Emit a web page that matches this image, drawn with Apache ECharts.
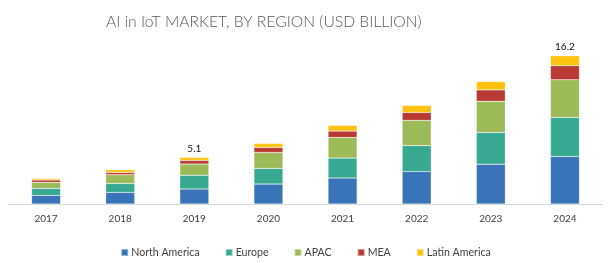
<!DOCTYPE html>
<html>
<head>
<meta charset="utf-8">
<script src="https://cdn.jsdelivr.net/npm/echarts@6/dist/echarts.min.js"></script>
<style>html,body{margin:0;padding:0;background:#fff}#c{width:611px;height:263px}</style>
</head>
<body>
<div id="c"></div>
<script>
var titleText = 'AI in IoT MARKET, BY REGION (USD BILLION)';
var years = ['2017', '2018', '2019', '2020', '2021', '2022', '2023', '2024'];
var northAmerica = [0.94, 1.27, 1.64, 2.18, 2.84, 3.54, 4.35, 5.20];
var europe       = [0.76, 0.98, 1.50, 1.70, 2.18, 2.84, 3.46, 4.26];
var apac         = [0.66, 0.95, 1.23, 1.75, 2.26, 2.76, 3.42, 4.12];
var mea          = [0.26, 0.25, 0.40, 0.55, 0.69, 0.87, 1.24, 1.53];
var latinAmerica = [0.17, 0.29, 0.33, 0.44, 0.62, 0.76, 0.91, 1.09];
var labeledYears = ['2019', '2024'];

var seriesDefs = [
  {name: 'North America', data: northAmerica, color: '#3a74b8'},
  {name: 'Europe', data: europe, color: '#38a991'},
  {name: 'APAC', data: apac, color: '#9cbb58'},
  {name: 'MEA', data: mea, color: '#b93a32'},
  {name: 'Latin America', data: latinAmerica, color: '#ffc20e'}
];
var font = 'Lato, "Open Sans", sans-serif';
var chart = echarts.init(document.getElementById('c'));
var series = seriesDefs.map(function (s, idx) {
  var o = {
    name: s.name, type: 'bar', stack: 'total', data: s.data, barWidth: 29,
    itemStyle: {color: s.color, borderColor: 'rgba(255,255,255,0.45)', borderWidth: 0.5},
    emphasis: {disabled: true}
  };
  if (idx === seriesDefs.length - 1) {
    o.label = {
      show: true, position: 'top', distance: 4, color: '#111', fontSize: 10, fontFamily: font,
      formatter: function (p) {
        if (labeledYears.indexOf(p.name) < 0) return '';
        var t = 0;
        seriesDefs.forEach(function (d) { t += d.data[p.dataIndex]; });
        return t.toFixed(1);
      }
    };
  }
  return o;
});
chart.setOption({
  animation: false,
  title: {
    text: titleText, left: 101, top: 9,
    textStyle: {fontFamily: font, fontWeight: 300, fontSize: 15.7, color: '#595959'}
  },
  legend: {
    top: 242, left: 'center', icon: 'rect', itemWidth: 7, itemHeight: 7, itemGap: 25,
    textStyle: {fontFamily: font, fontSize: 10.6, color: '#404040', padding: [0, 0, 0, -2]},
    data: seriesDefs.map(function (s) { return s.name; })
  },
  grid: {left: 9, right: 9, top: 21, bottom: 59, containLabel: false},
  xAxis: {
    type: 'category', data: years,
    axisLine: {lineStyle: {color: '#d9d9d9'}}, axisTick: {show: false},
    axisLabel: {color: '#404040', fontSize: 10, fontFamily: font, margin: 10}
  },
  yAxis: {type: 'value', min: 0, max: 20, show: false, splitLine: {show: false}},
  series: series
});
</script>
</body>
</html>
